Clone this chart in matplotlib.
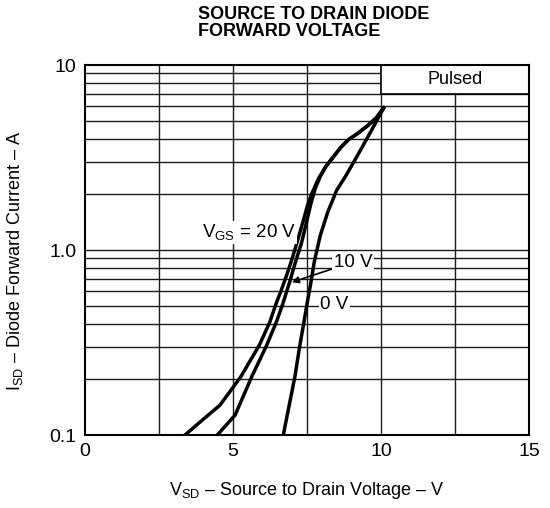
import numpy as np
import matplotlib
matplotlib.use("Agg")
import matplotlib.pyplot as plt

plt.rcParams['font.family'] = ['Liberation Sans', 'DejaVu Sans']
plt.rcParams['mathtext.fontset'] = 'custom'
plt.rcParams['mathtext.rm'] = 'Liberation Sans'

# curves (Vsd in V, Isd in A)
vsd_20v = [3.38, 3.9, 4.56, 5.26, 5.89, 6.25, 6.45, 6.62, 6.8, 7.0, 7.2, 7.38, 7.52, 7.68, 7.9, 8.15, 8.4,
           8.65, 8.9, 9.2, 9.55, 9.85, 10.1]
isd_20v = [0.1, 0.118, 0.145, 0.206, 0.306, 0.41, 0.51, 0.6, 0.72, 0.9, 1.15, 1.45, 1.75, 2.05, 2.45, 2.85, 3.2,
           3.6, 3.95, 4.25, 4.7, 5.2, 5.9]

vsd_10v = [4.47, 5.07, 5.63, 6.14, 6.47, 6.68, 6.9, 7.1, 7.32, 7.5, 7.64, 7.78, 7.95, 8.15, 8.4,
           8.65, 8.9, 9.2, 9.55, 9.85, 10.1]
isd_10v = [0.1, 0.128, 0.206, 0.306, 0.41, 0.51, 0.66, 0.85, 1.1, 1.45, 1.8, 2.15, 2.5, 2.85, 3.2,
           3.6, 3.95, 4.25, 4.7, 5.2, 5.9]

vsd_0v = [6.7, 6.9, 7.09, 7.26, 7.4, 7.5, 7.62, 7.75, 7.95, 8.2, 8.5, 8.8, 9.18, 9.63, 10.1]
isd_0v = [0.1, 0.145, 0.206, 0.306, 0.41, 0.51, 0.65, 0.87, 1.2, 1.6, 2.1, 2.5, 3.19, 4.29, 5.9]

x_ticks = [0, 5, 10, 15]
y_ticks = [0.1, 1.0, 10]
y_tick_labels = ["0.1", "1.0", "10"]

fig = plt.figure(figsize=(5.5, 5.08), dpi=100)
ax = fig.add_axes([0.1545, 0.1437, 0.8073, 0.7283])
ax.set_yscale("log")
ax.set_xlim(0, 15)
ax.set_ylim(0.1, 10)

# grid
for xv in np.arange(2.5, 15, 2.5):
    ax.axvline(xv, color="#1a1a1a", lw=1.0, zorder=1)
for dec in [0.1, 1.0]:
    for m in range(1, 10):
        if dec * m > 0.1:
            ax.axhline(dec * m, color="#1a1a1a", lw=1.0, zorder=1)

# "Pulsed" box
ax.fill_between([10, 15], 7, 10, facecolor="white", edgecolor="black", lw=1.2, zorder=2)
ax.text(12.5, 8.35, "Pulsed", ha="center", va="center", fontsize=13, zorder=3)

for vv, ii in [(vsd_20v, isd_20v), (vsd_10v, isd_10v), (vsd_0v, isd_0v)]:
    ax.plot(vv, ii, color="black", lw=2.5, solid_capstyle="round", solid_joinstyle="round", zorder=4)

box = dict(facecolor="white", edgecolor="none", pad=1.0)
ax.text(7.12, 1.24, r"V$_\mathregular{GS}$ = 20 V", ha="right", va="center", fontsize=13.5, bbox=box, zorder=5)
ax.annotate("10 V", xy=(6.99, 0.67), xytext=(8.4, 0.86), ha="left", va="center", fontsize=13.5,
            bbox=box, zorder=5,
            arrowprops=dict(arrowstyle="-|>", color="black", lw=1.2, mutation_scale=10, shrinkA=0, shrinkB=0))
ax.text(7.95, 0.505, "0 V", ha="left", va="center", fontsize=13.5, bbox=box, zorder=5)

ax.set_xticks(x_ticks)
ax.set_yticks(y_ticks)
ax.set_yticklabels(y_tick_labels)
ax.yaxis.set_minor_locator(matplotlib.ticker.NullLocator())
ax.tick_params(length=0, labelsize=14, pad=6)
for s in ax.spines.values():
    s.set_linewidth(1.5)

ax.set_xlabel(r"V$_\mathregular{SD}$ – Source to Drain Voltage – V", fontsize=13, labelpad=14)
ax.set_ylabel(r"I$_\mathregular{SD}$ – Diode Forward Current – A", fontsize=13, labelpad=10)
ax.yaxis.set_label_coords(-0.135, 0.47)

fig.text(0.36, 0.988, "SOURCE TO DRAIN DIODE\nFORWARD VOLTAGE", ha="left", va="top",
         fontsize=13, fontweight="bold", linespacing=0.98)

fig.savefig("out.png", dpi=100)
